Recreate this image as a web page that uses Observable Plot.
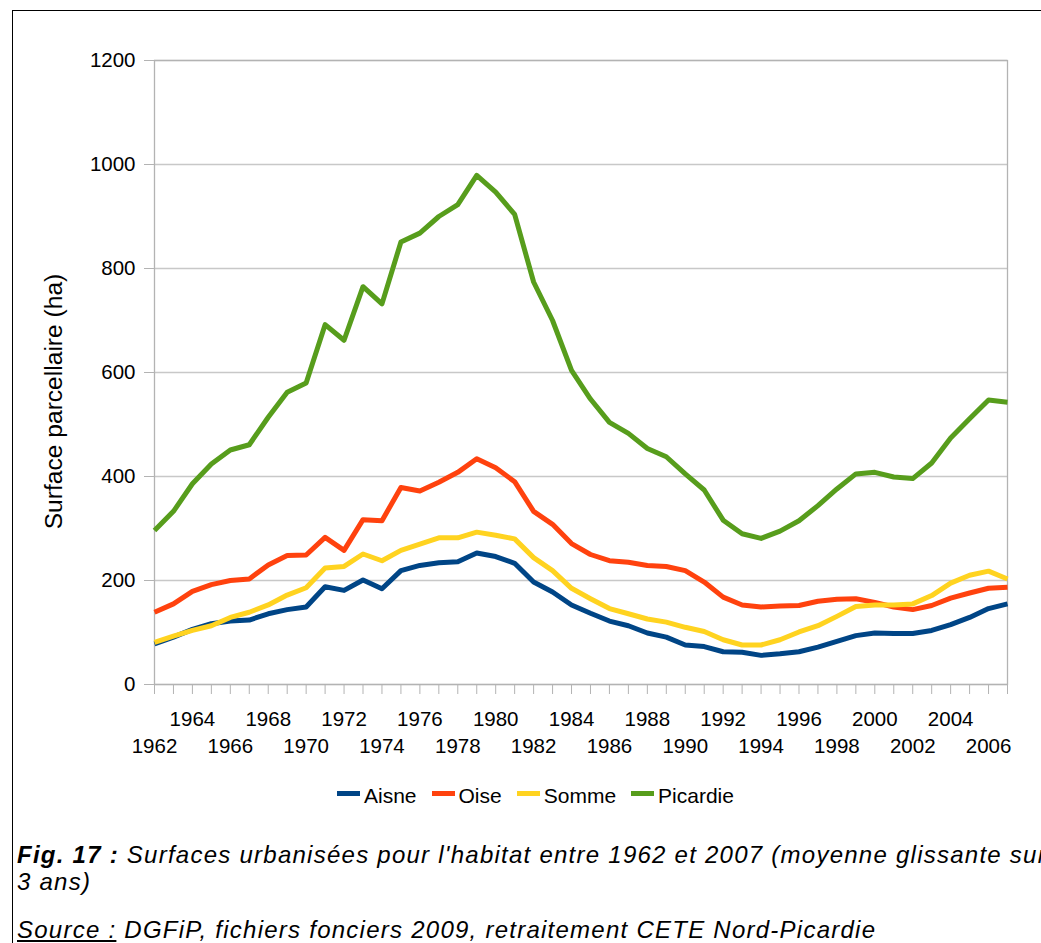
<!DOCTYPE html>
<html><head><meta charset="utf-8">
<script src="https://cdn.jsdelivr.net/npm/d3@7"></script>
<script src="https://cdn.jsdelivr.net/npm/@observablehq/plot@0.6"></script>
<style>
html,body{margin:0;padding:0;background:#fff;width:1041px;height:943px;overflow:hidden}
body{position:relative;font-family:"Liberation Sans",Arial,sans-serif;color:#000}
#chart{position:absolute;left:0;top:0}
#frame{position:absolute;left:12px;top:10px;width:1200px;height:1200px;border-left:1px solid #000;border-top:1px solid #000;pointer-events:none}
#legend{position:absolute;left:337px;top:784px;display:flex;align-items:center;font-size:21px;white-space:nowrap}
#legend .sw{display:inline-block;width:23px;height:5px;margin-right:4px;position:relative;top:-3px}
#legend .it{display:flex;align-items:center;margin-right:15px}
#caption{position:absolute;left:17px;top:841px;font-size:24px;letter-spacing:1.25px;line-height:27px;font-style:italic;white-space:nowrap}
#caption p{margin:0}
#caption p.src{margin-top:21px}
#caption u{text-decoration:underline}
</style>
</head><body>
<div id="chart"></div>
<div id="legend"></div>
<div id="caption">
<p><b>Fig. 17 :</b> Surfaces urbanisées pour l'habitat entre 1962 et 2007 (moyenne glissante sur<br>3 ans)</p>
<p class="src"><u>Source :</u> DGFiP, fichiers fonciers 2009, retraitement CETE Nord-Picardie</p>
</div>
<div id="frame"></div>
<script>
const years = d3.range(1962, 2008);
const aisne = [78,91,106,117,122,124,136,144,149,188,181,201,184,219,229,234,236,253,246,233,197,178,153,137,122,113,99,91,76,73,63,62,56,59,63,72,83,94,99,98,98,104,115,129,146,155];
const oise = [139,155,179,192,200,203,230,248,249,283,258,317,315,379,372,389,408,434,417,390,333,308,271,250,238,235,229,227,219,197,168,153,149,151,152,160,164,165,158,149,144,152,166,176,185,187];
const somme = [81,93,104,113,129,139,153,172,186,224,227,251,238,258,270,282,282,293,287,280,244,219,185,165,146,136,126,120,110,102,86,76,76,86,101,113,131,150,153,153,155,171,195,210,218,203];
const picardie = [296,333,386,424,451,461,514,562,580,692,662,765,732,851,868,900,923,979,947,904,774,700,604,549,504,483,454,438,405,374,316,290,281,295,315,344,376,405,408,399,396,426,474,511,547,543];
const seriesNames = ["Aisne","Oise","Somme","Picardie"];
const seriesColors = ["#004586","#ff420e","#ffd320","#579d1c"];
const yTicks = [0,200,400,600,800,1000,1200];
const xLabelsUpper = [1964,1968,1972,1976,1980,1984,1988,1992,1996,2000,2004];
const xLabelsLower = [1962,1966,1970,1974,1978,1982,1986,1990,1994,1998,2002,2006];
const yTitle = "Surface parcellaire (ha)";

const allSeries = [aisne, oise, somme, picardie];
const rows = [];
allSeries.forEach((vals, s) => vals.forEach((v, i) => rows.push({year: years[i], value: v, series: seriesNames[s]})));

const grey = "#b3b3b3";
const plot = Plot.plot({
  width: 1041,
  height: 770,
  marginLeft: 154,
  marginRight: 34,
  marginTop: 60,
  marginBottom: 86,
  style: {background: "transparent", fontFamily: "'Liberation Sans', Arial, sans-serif", color: "#000"},
  x: {domain: [years[0], years[years.length-1]]},
  y: {domain: [0, 1200]},
  color: {domain: seriesNames, range: seriesColors},
  marks: [
    Plot.gridY(yTicks, {stroke: "#c8c8c8", strokeOpacity: 1, strokeWidth: 1.3}),
    Plot.frame({stroke: grey, strokeWidth: 1.3}),
    Plot.axisY({ticks: yTicks, tickSize: 10, tickPadding: 9, fontSize: 20.5, stroke: grey, strokeOpacity: 1, label: null, tickFormat: d => String(d)}),
    Plot.axisX({ticks: years, tickSize: 10, tickFormat: () => "", stroke: grey, strokeOpacity: 1, label: null}),
    Plot.axisX({ticks: xLabelsUpper, tickSize: 0, tickPadding: 27, fontSize: 20.5, tickFormat: d => String(d), label: null}),
    Plot.axisX({ticks: xLabelsLower, tickSize: 0, tickPadding: 54, fontSize: 20.5, tickFormat: d => String(d), label: null}),
    Plot.lineY(rows, {x: "year", y: "value", stroke: "series", z: "series", strokeWidth: 5, strokeLinejoin: "round", strokeLinecap: "butt"}),
    Plot.text([yTitle], {text: d => d, frameAnchor: "left", rotate: -90, dx: -100, dy: 29, fontSize: 24.6, textAnchor: "middle", lineAnchor: "middle", fill: "#000"})
  ]
});
document.getElementById("chart").appendChild(plot);

const legend = document.getElementById("legend");
seriesNames.forEach((n, i) => {
  const it = document.createElement("span");
  it.className = "it";
  const sw = document.createElement("span");
  sw.className = "sw";
  sw.style.background = seriesColors[i];
  const t = document.createElement("span");
  t.textContent = n;
  it.appendChild(sw); it.appendChild(t);
  legend.appendChild(it);
});
</script>
</body></html>
